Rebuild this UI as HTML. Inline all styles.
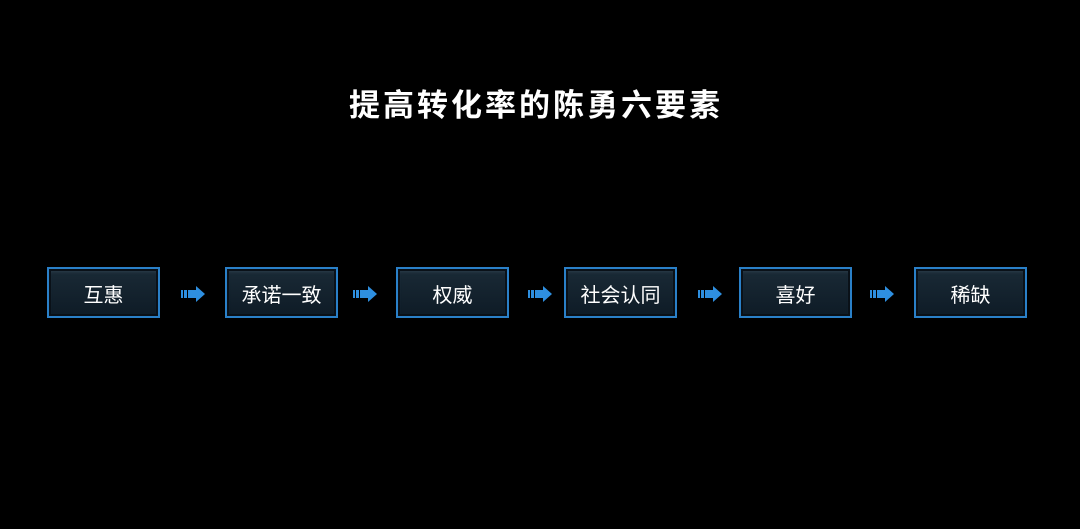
<!DOCTYPE html>
<html><head><meta charset="utf-8"><style>
body{margin:0;width:1080px;height:529px;background:#000;overflow:hidden;position:relative;font-family:"Liberation Sans","Noto Sans CJK SC",sans-serif}
h1{position:absolute;left:0;width:1072px;top:80px;margin:0;text-align:center;color:#fff;font-size:31px;font-weight:bold;letter-spacing:3px}
.b{position:absolute;top:267px;height:47px;width:109px;border:2px solid #2a80c8;background:linear-gradient(#1a2a36,#0e1b26);box-shadow:inset 0 0 0 2px #0a1118, inset 0 3px 3px #2b3d4a;color:#fff;font-size:20px;text-align:center;line-height:54px}
.a{position:absolute;top:285px;width:26px;height:18px}
</style></head><body>
<h1>提高转化率的陈勇六要素</h1>
<div class="b" style="left:47px">互惠</div>
<div class="b" style="left:225px">承诺一致</div>
<div class="b" style="left:396px">权威</div>
<div class="b" style="left:564px">社会认同</div>
<div class="b" style="left:739px">喜好</div>
<div class="b" style="left:914px">稀缺</div>
<svg class="a" style="left:181px" viewBox="0 0 26 18"><rect x="0" y="5" width="2" height="8" fill="#2e8fe0"/><rect x="3" y="5" width="3" height="8" fill="#2e8fe0"/><path d="M7 5h8V1l9 8-9 8v-4H7z" fill="#2e8fe0"/></svg>
<svg class="a" style="left:353px" viewBox="0 0 26 18"><rect x="0" y="5" width="2" height="8" fill="#2e8fe0"/><rect x="3" y="5" width="3" height="8" fill="#2e8fe0"/><path d="M7 5h8V1l9 8-9 8v-4H7z" fill="#2e8fe0"/></svg>
<svg class="a" style="left:528px" viewBox="0 0 26 18"><rect x="0" y="5" width="2" height="8" fill="#2e8fe0"/><rect x="3" y="5" width="3" height="8" fill="#2e8fe0"/><path d="M7 5h8V1l9 8-9 8v-4H7z" fill="#2e8fe0"/></svg>
<svg class="a" style="left:698px" viewBox="0 0 26 18"><rect x="0" y="5" width="2" height="8" fill="#2e8fe0"/><rect x="3" y="5" width="3" height="8" fill="#2e8fe0"/><path d="M7 5h8V1l9 8-9 8v-4H7z" fill="#2e8fe0"/></svg>
<svg class="a" style="left:870px" viewBox="0 0 26 18"><rect x="0" y="5" width="2" height="8" fill="#2e8fe0"/><rect x="3" y="5" width="3" height="8" fill="#2e8fe0"/><path d="M7 5h8V1l9 8-9 8v-4H7z" fill="#2e8fe0"/></svg>
</body></html>
